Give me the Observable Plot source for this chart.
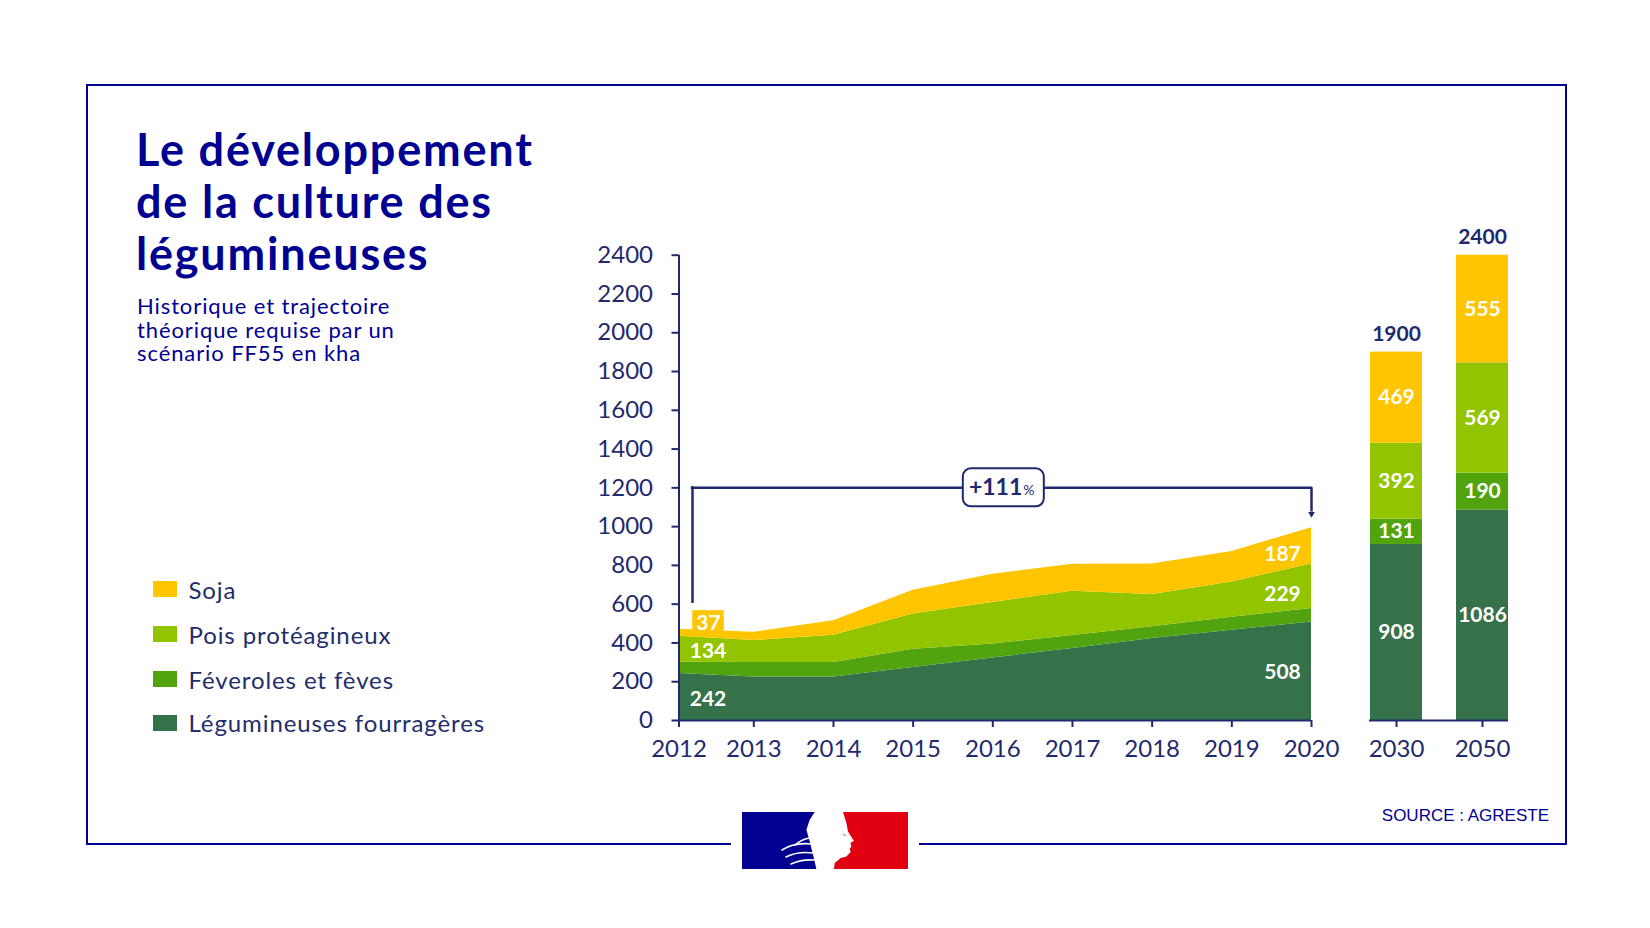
<!DOCTYPE html>
<html lang="fr">
<head>
<meta charset="utf-8">
<title>Le développement de la culture des légumineuses</title>
<script src="https://cdn.jsdelivr.net/npm/d3@7"></script>
<script src="https://cdn.jsdelivr.net/npm/@observablehq/plot@0.6"></script>
<style>
  html, body { margin: 0; padding: 0; background: #fff; }
  #page { position: relative; width: 1650px; height: 928px; overflow: hidden; font-family: Lato, "Noto Sans", sans-serif; }
  #frame { position: absolute; left: 85.75px; top: 83.75px; width: 1481.5px; height: 761.5px;
           border: 2.5px solid #000091; box-sizing: border-box; }
  .layer { position: absolute; left: 0; top: 0; }
  .layer svg { display: block; }
  #title { position: absolute; left: 136px; top: 123px; margin: 0; color: #000091;
           font-size: 45px; line-height: 52px; font-weight: 700; letter-spacing: 1.8px; }
  #subtitle { position: absolute; left: 137px; top: 294px; margin: 0; color: #000091;
              font-size: 22px; font-weight: 400; letter-spacing: 0.9px; }
  #subtitle span { display: block; height: 23.5px; line-height: 23.5px; white-space: nowrap; }
  #legend { position: absolute; left: 152.5px; top: 0; color: #232d6b; font-size: 24px; letter-spacing: 0.9px; }
  .item { position: absolute; left: 0; display: flex; align-items: center; white-space: nowrap; height: 30px; margin-top: -15px; }
  .swatch { width: 24px; height: 16px; margin-right: 12px; flex: none; }
  #source { position: absolute; right: 101px; top: 806px; color: #000091;
            font-family: "Liberation Sans", Arial, sans-serif; font-size: 17px; }
  #logo { position: absolute; left: 731px; top: 806px; width: 188px; height: 70px; background: #fff; }
  #logo svg { position: absolute; left: 11px; top: 6px; }
</style>
</head>
<body>
<div id="page">
  <div id="frame"></div>
  <h1 id="title">Le développement<br>de la culture des<br>légumineuses</h1>
  <p id="subtitle"><span>Historique et trajectoire</span><span>théorique requise par un</span><span>scénario FF55 en kha</span></p>
  <div id="legend"></div>
  <div id="areaLayer" class="layer"></div>
  <div id="barLayer" class="layer"></div>
  <div id="source">SOURCE : AGRESTE</div>
  <div id="logo">
    <svg width="166" height="57" viewBox="0 0 166 57">
      <rect x="0" y="0" width="84" height="57" fill="#000091"/>
      <rect x="84" y="0" width="82" height="57" fill="#e1000f"/>
      <path fill="#fff" d="M72.7,0 L101,0 L104.4,11 L106,19.4 L110,26 L112,28.7 L108.4,31 L109.4,34.4 L107.7,36.7 L108.7,40 L104.4,44.4 L98.7,46 L92.7,51 L92,57 L74.4,57 L71,42.7 L67.7,29.4 L64.4,17.7 L67.7,7.7 Z"/>
      <g fill="none" stroke="#fff" stroke-width="1.6" stroke-linecap="round">
        <path d="M40,38 Q52,30 70,32"/>
        <path d="M44,45 Q56,39 71,41"/>
        <path d="M49,52 Q60,47 72,48"/>
        <path d="M53,33 Q60,27 68,26"/>
      </g>
      <path d="M101,22 L104,24" stroke="#9a9a9a" stroke-width="1.2"/>
    </svg>
  </div>
</div>
<script>
// ---- Surfaces cultivées (milliers d'hectares) ----
const years = [2012, 2013, 2014, 2015, 2016, 2017, 2018, 2019, 2020];
const fourrageres = [242, 224, 224, 274, 323, 371, 423, 465, 508];
const feveroles   = [58, 75, 75, 94, 72, 67, 61, 67, 70];
const pois        = [134, 113, 141, 181, 214, 229, 166, 183, 229];
const soja        = [37, 43, 75, 123, 145, 139, 157, 157, 187];

// Trajectoire FF55
const horizons        = ["2030", "2050"];
const fourragesProj   = [908, 1086];
const feverolesProj   = [131, 190];
const poisProj        = [392, 569];
const sojaProj        = [469, 555];

// Series, from the bottom of the stack to the top
const seriesNames  = ["Légumineuses fourragères", "Féveroles et fèves", "Pois protéagineux", "Soja"];
const seriesColors = ["#367249", "#52a40f", "#93c400", "#ffc500"];
const yTicks = [0, 200, 400, 600, 800, 1000, 1200, 1400, 1600, 1800, 2000, 2200, 2400];
const growthLabel = "+111";

const navy = "#1f2a6e";
const font = "Lato, 'Noto Sans', sans-serif";

const history = [];
[fourrageres, feveroles, pois, soja].forEach((vals, s) =>
  years.forEach((year, i) => history.push({year, series: seriesNames[s], value: vals[i]})));

const projection = [];
[fourragesProj, feverolesProj, poisProj, sojaProj].forEach((vals, s) =>
  horizons.forEach((horizon, i) => projection.push({horizon, series: seriesNames[s], value: vals[i]})));

const stackHist = [fourrageres, feveroles, pois, soja];
function band(i, s) {
  const lo = d3.sum(stackHist.slice(0, s), a => a[i]);
  return {lo, hi: lo + stackHist[s][i]};
}
const first = 0, last = years.length - 1;
const totalFirst = band(first, 3).hi;

// White value labels inside the areas, at the first and last year
const labelsFirst = [0, 2].map(s => {
  const b = band(first, s);
  return {year: years[first], y: (b.lo + b.hi) / 2, text: String(stackHist[s][first])};
});
const labelsLast = [0, 2, 3].map(s => {
  const b = band(last, s);
  return {year: years[last], y: (b.lo + b.hi) / 2, text: String(stackHist[s][last]), s};
});
const sojaFirst = [{year: years[first], y: totalFirst, text: String(soja[first])}];

// Growth bracket between the first and last totals
const bracket = {from: years[first], to: years[last], low: 610, level: 1200, end: 1075, tip: 1066,
                 mid: (years[first] + years[last]) / 2};

const areaChart = Plot.plot({
  width: 1650, height: 928,
  marginLeft: 678.5, marginRight: 339, marginTop: 254.7, marginBottom: 208,
  style: {background: "transparent", fontFamily: font, color: navy, overflow: "visible"},
  x: {type: "linear", domain: [2012, 2013, 2020], range: [678.5, 753.3, 1311], label: null},
  y: {domain: [0, 2400], range: [720, 254.7], label: null},
  color: {domain: seriesNames, range: seriesColors},
  marks: [
    Plot.areaY(history, {x: "year", y: "value", fill: "series", order: seriesNames}),
    Plot.ruleY([0], {stroke: navy, strokeWidth: 2}),
    Plot.ruleX([years[first]], {y1: 0, y2: 2400, stroke: navy, strokeWidth: 2}),
    Plot.axisY({ticks: yTicks, tickFormat: d => String(d), tickSize: 7, tickPadding: 19,
                fontSize: 24, stroke: navy, strokeWidth: 2, fill: navy, label: null}),
    Plot.axisX({ticks: years, tickFormat: d => String(d), tickSize: 7, tickPadding: 12,
                fontSize: 24, stroke: navy, strokeWidth: 2, fill: navy, label: null}),
    // value labels
    Plot.rect(sojaFirst, {x1: "year", x2: "year", y1: "y", y2: "y", dx: 29.5,
                          insetLeft: -15.75, insetRight: -15.75, insetTop: -18.5, insetBottom: -2,
                          fill: seriesColors[3]}),
    Plot.text(sojaFirst, {x: "year", y: "y", text: "text", dx: 29.5, dy: -6, fill: "white",
                          fontWeight: 700, fontSize: 21}),
    Plot.text(labelsFirst, {x: "year", y: "y", text: "text", dx: 29, dy: 2, fill: "white",
                            fontWeight: 700, fontSize: 21}),
    Plot.text(labelsLast.filter(d => d.s === 0), {x: "year", y: "y", text: "text", dx: -29, dy: 1,
                            fill: "white", fontWeight: 700, fontSize: 21}),
    Plot.text(labelsLast.filter(d => d.s > 0), {x: "year", y: "y", text: "text", dx: -29, dy: 8.5,
                            fill: "white", fontWeight: 700, fontSize: 21}),
    // bracket
    Plot.ruleX([bracket], {x: "from", y1: "low", y2: "level", dx: 13.5, stroke: navy, strokeWidth: 2.5, strokeLinecap: "square"}),
    Plot.ruleY([bracket], {y: "level", x1: "from", x2: "to", insetLeft: 13.5, stroke: navy, strokeWidth: 2.5, strokeLinecap: "square"}),
    Plot.ruleX([bracket], {x: "to", y1: "level", y2: "end", stroke: navy, strokeWidth: 2.5}),
    Plot.dot([bracket], {x: "to", y: "tip", symbol: "triangle2", rotate: 180, r: 3.2, fill: navy}),
    Plot.rect([bracket], {x1: "mid", x2: "mid", y1: "level", y2: "level", dx: 11,
                          insetLeft: -40.5, insetRight: -40.5, insetTop: -19, insetBottom: -19,
                          rx: 8, fill: "white", stroke: navy, strokeWidth: 2}),
    Plot.text([bracket], {x: "mid", y: "level", text: () => growthLabel, dx: 29.5, textAnchor: "end",
                          fontWeight: 700, fontSize: 23, fill: navy}),
    Plot.text([bracket], {x: "mid", y: "level", text: () => "%", dx: 30.5, dy: 2.7, textAnchor: "start",
                          fontSize: 14, fill: navy})
  ]
});
document.getElementById("areaLayer").append(areaChart);

const totals = horizons.map((horizon, i) => ({
  horizon,
  total: fourragesProj[i] + feverolesProj[i] + poisProj[i] + sojaProj[i]
}));

const barChart = Plot.plot({
  width: 1650, height: 928,
  marginLeft: 1369, marginRight: 142, marginTop: 254.7, marginBottom: 208,
  style: {background: "transparent", fontFamily: font, color: navy, overflow: "visible"},
  x: {type: "band", domain: horizons, paddingInner: 0.4, paddingOuter: 0, label: null},
  y: {domain: [0, 2400], label: null, axis: null},
  color: {domain: seriesNames, range: seriesColors},
  marks: [
    Plot.barY(projection, {x: "horizon", y: "value", fill: "series", order: seriesNames}),
    Plot.text(projection, Plot.stackY({x: "horizon", y: "value", z: "series", order: seriesNames,
                                       text: d => String(d.value), fill: "white", fontWeight: 700, fontSize: 21})),
    Plot.text(totals, {x: "horizon", y: "total", text: d => String(d.total), dy: -18,
                       fill: navy, fontWeight: 700, fontSize: 21}),
    Plot.ruleY([0], {stroke: navy, strokeWidth: 2}),
    Plot.axisX({tickSize: 7, tickPadding: 12, fontSize: 24, stroke: navy, strokeWidth: 2, fill: navy, label: null})
  ]
});
document.getElementById("barLayer").append(barChart);

// Legend, top of the stack first
const legendY = [589, 634, 679, 722.5];
const legend = document.getElementById("legend");
[...seriesNames].reverse().forEach((name, k) => {
  const item = document.createElement("div");
  item.className = "item";
  item.style.top = legendY[k] + "px";
  const sw = document.createElement("span");
  sw.className = "swatch";
  sw.style.background = seriesColors[seriesNames.length - 1 - k];
  const label = document.createElement("span");
  label.textContent = name;
  item.append(sw, label);
  legend.append(item);
});
</script>
</body>
</html>
